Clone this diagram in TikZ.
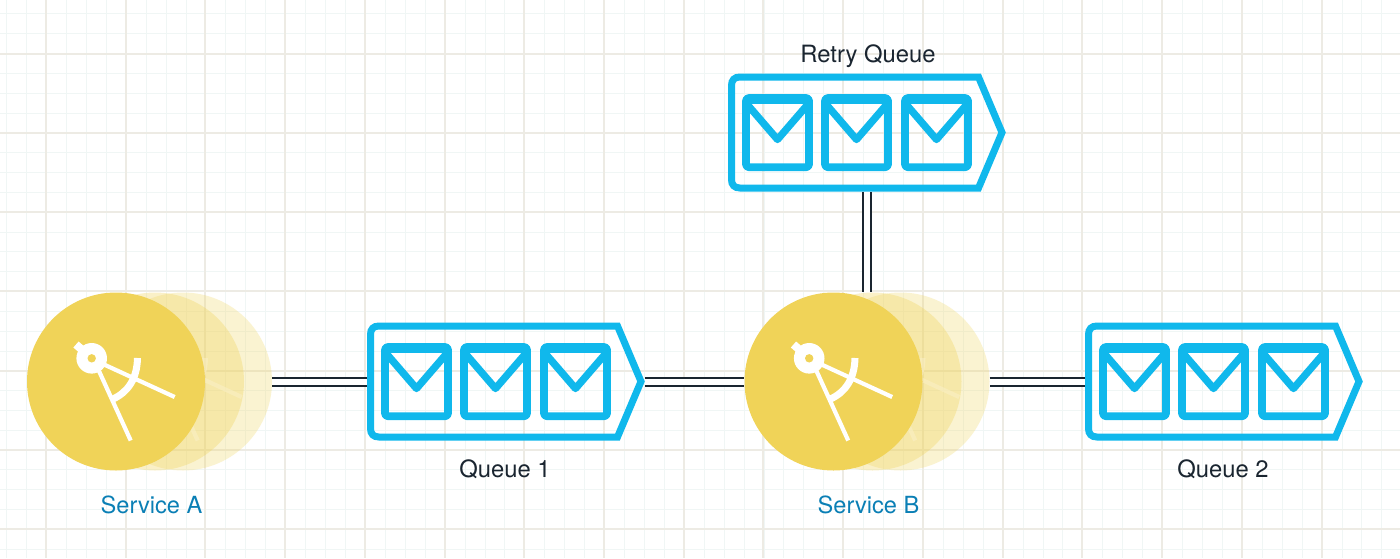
\documentclass[tikz,border=0pt]{standalone}
\usepackage{fontspec}
\setmainfont{TeX Gyre Heros}
\definecolor{qblue}{HTML}{10B8EC}
\definecolor{svc}{HTML}{F0D358}
\definecolor{gmaj}{HTML}{EDEBE4}
\definecolor{gmin}{HTML}{F0F6F5}
\definecolor{linkc}{HTML}{1A2530}
\definecolor{bluetxt}{HTML}{0A7FB5}
\tikzset{
  qline/.style={draw=qblue,line width=7pt,miter limit=10,fill=none},
  envline/.style={draw=qblue,line width=7.8pt,line join=round,rounded corners=3pt},
  vline/.style={draw=qblue,line width=7.3pt,line join=round,line cap=butt},
  conn/.style={draw=linkc,line width=2pt,double=white,double distance=6pt},
  qtext/.style={text=linkc,font=\fontsize{23.8}{26}\selectfont,inner sep=0pt},
  stext/.style={text=bluetxt,font=\fontsize{23.6}{26}\selectfont,inner sep=0pt},
  qanchor/.style={rectangle,minimum width=278pt,minimum height=119pt,inner sep=0pt},
  sanchor/.style={circle,minimum size=178pt,inner sep=0pt},
}
% envelope at local x offset #1
\newcommand{\envelope}[1]{%
  \draw[envline] (#1+0,347) rectangle (#1+63,416.2);
  \fill[qblue] (#1,347) rectangle (#1+63,353.3);
  \draw[vline] (#1+0,352) -- (#1+31.5,388.5) -- (#1+63,352);
}
% queue body, shift #1,#2 from the Queue 1 position
\newcommand{\queuebody}[2]{%
  \begin{scope}[shift={(#1,#2)}]
    \draw[qline] (379,326) -- (617.5,326) -- (641,381.5) -- (617.5,437) -- (379,437)
      .. controls (373.5,437) and (370.5,434) .. (370.5,428.5) -- (370.5,334.5)
      .. controls (370.5,329) and (373.5,326) .. (379,326) -- cycle;
    \envelope{385}\envelope{464}\envelope{544}
  \end{scope}}
% compass icon, shift #1 from Service A
\newcommand{\compass}[1]{%
  \begin{scope}[shift={(#1,0)},line cap=butt]
    \draw[white,line width=4.2pt] (99,371) -- (130.7,440.5);
    \draw[white,line width=4.2pt] (104,364.5) -- (174.7,397);
    \draw[white,line width=7pt] (137.5,358) .. controls (137,379) and (128,392) .. (113,399);
    \draw[white,line width=8pt] (91.7,358.3) -- (76,344.5);
    \fill[white] (91.7,358.3) circle[radius=15.3];
  \end{scope}}
% service layers, shift #1 from Service A
\newcommand{\servicebody}[1]{%
  \begin{scope}[shift={(#1,0)}]
    \fill[svc,fill opacity=.27] (183,381.5) circle[radius=89];
    \begin{scope}[opacity=.55]\compass{67}\end{scope}
    \fill[svc,fill opacity=.33] (155,381.5) circle[radius=89];
    \fill[svc] (116,381.5) circle[radius=89];
    \compass{0}
    \fill[svc] (91.7,358.3) circle[radius=4.2];
  \end{scope}}
\begin{document}
\begin{tikzpicture}[x=1pt,y=-1pt]
\useasboundingbox (0,0) rectangle (1400,558);
\fill[white] (0,0) rectangle (1400,558);
% grid
\foreach \i in {0,...,70}{\draw[gmin,line width=1pt] ({round(6.2+19.93*\i)+.5},0) -- ({round(6.2+19.93*\i)+.5},558);}
\foreach \i in {0,...,28}{\draw[gmin,line width=1pt] (0,{round(13.4+19.83*\i)+.5}) -- (1400,{round(13.4+19.83*\i)+.5});}
\foreach \i in {0,...,17}{\draw[gmaj,line width=2pt] ({round(46+79.72*\i)},0) -- ({round(46+79.72*\i)},558);}
\foreach \i in {0,...,6}{\draw[gmaj,line width=2pt] (0,{round(53.5+79.3*\i)}) -- (1400,{round(53.5+79.3*\i)});}
% anchors
\node[sanchor] (svcA) at (183,381.5) {};
\node[sanchor] (svcB) at (900.5,381.5) {};
\node[sanchor] (svcBm) at (872,381.5) {};
\node[sanchor] (svcBf) at (833.5,381.5) {};
\node[qanchor] (q1) at (506,381.5) {};
\node[qanchor] (q2) at (1224,381.5) {};
\node[qanchor] (rq) at (867,132.5) {};
% connectors
\draw[conn] (svcA.east) -- (q1.west);
\draw[conn] (q1.east) -- (svcBf.west);
\draw[conn] (svcB.east) -- (q2.west);
\draw[conn] (rq.south) -- (rq.south |- svcBm.north);
% shapes
\servicebody{0}
\servicebody{717.5}
\queuebody{0}{0}
\queuebody{718}{0}
\queuebody{361}{-249}
% labels
\node[qtext] (lq1) at (505,469) {Queue 1};
\node[qtext] (lq2) at (1223,469) {Queue 2};
\node[qtext] (lrq) at (868,56) {Retry Queue};
\node[stext] (lsa) at (151.5,505) {Service A};
\node[stext] (lsb) at (868.5,505) {Service B};
\end{tikzpicture}
\end{document}
